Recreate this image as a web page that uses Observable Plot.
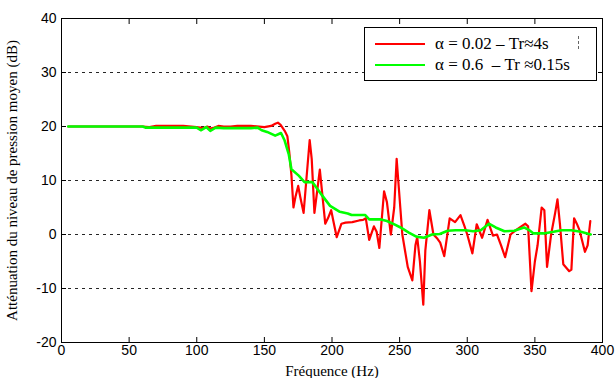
<!DOCTYPE html>
<html>
<head>
<meta charset="utf-8">
<script src="https://cdn.jsdelivr.net/npm/d3@7"></script>
<script src="https://cdn.jsdelivr.net/npm/@observablehq/plot@0.6"></script>
<style>
  html, body { margin: 0; padding: 0; background: #fff; }
  #wrap { position: relative; width: 615px; height: 378px; overflow: hidden; }
  #legend { position: absolute; left: 364px; top: 27px; width: 231px; height: 52px; border: 1px solid #000; background: #fff;
    font-family: "Liberation Serif", "Times New Roman", serif; font-size: 17px; color: #000; }
  .row { position: absolute; left: 0; height: 20px; display: flex; align-items: center; white-space: pre; }
  .sw { display: inline-block; width: 50px; height: 0; border-top: 2.5px solid; margin-left: 10px; margin-right: 10px; }
  .dots { position: absolute; left: 213px; top: 8px; height: 13px; border-left: 1px dashed #666; }
</style>
</head>
<body>
<div id="wrap"></div>
<script>
// Red series: alpha = 0.02 (Tr ≈ 4 s)
const redFreq = [5,60,65,70,80,90,100,105,108,110,113,116,120,125,130,140,150,155,158,160,162,165,167,168.5,170,171.5,173,175,176.5,179,181,183.5,185,187,189,191,193,195,197,199.4,201,203.5,207,210,215,220,223,225,227.5,231,233,235,238.5,240.6,243.5,246,247.8,249,250.5,252,254,256,259.4,261.7,263,265,267.5,269,272,275,278,280,283,287,291,295,298,300,303.8,307,311,315,319,322,325,328,332,336,340,343,345,347.5,350,352,355,357,359,362,365,366.7,368.5,371,375.4,377,379,381,383,387,389,391];
const redDb = [20,20,19.9,20.1,20.1,20.1,19.9,19.7,20,19.6,19.8,20.1,20,20,20.1,20.1,19.9,20.1,20.5,20.7,20.3,19.2,18.2,15,11,5,7,9,7,4,10,17.5,14,4,8,12,7,2,3,4.5,2.5,-0.5,2,2.2,2.3,2.6,2.7,3,-1,1.5,0.5,-2.5,8,6,0,5,14,10,5,0,-3,-6,-8.5,-2,-0.5,-5,-13,-3,4.5,0,-0.8,-1.5,-4,3,2.3,3.6,1.5,0,-3.5,1.9,-0.6,2.7,-0.2,0,-2,-4.2,0,0.8,1.5,2,1.5,-10.5,-5,-2,5,4.5,-6,0,4,6.5,2,-5.5,-6.8,-6.5,3,2,0.8,-3.2,-2,2.5];
// Green series: alpha = 0.6 (Tr ≈ 0.15 s)
const greenFreq = [5,60,62,100,103,107,110,114,120,140,145,148,152,158,162.3,165,168,170,175.4,179.7,185.5,188.4,192.8,198.6,205.8,211.6,214.5,224.6,227.5,236.2,240.6,245,250.7,256.5,262.3,268,274,279.7,285.5,291.3,298.6,304.3,310,316,321,327.5,334.8,342,346.4,349,356.5,363.8,369.6,376.8,384,391.3];
const greenDb = [20,20,19.8,19.8,19.3,19.9,19.2,19.8,19.7,19.7,19.8,19.3,19.0,18.3,18.8,17.4,14.9,12.1,10.9,9.7,9.7,8.7,7.2,5.3,4.2,3.9,3.6,3.6,2.8,2.8,2.5,2.0,1.3,0.4,-0.4,-0.6,0,0.1,0.7,0.8,0.8,0.6,0.8,2.0,1.3,0.6,0.7,1.3,0.7,0.2,0.2,0.5,0.8,0.8,0.5,0];

const xTicks = [0,50,100,150,200,250,300,350,400];
const yTicks = [-20,-10,0,10,20,30,40];
const gridValues = [-10,0,10,20,30];
const xLabel = "Fréquence (Hz)";
const yLabel = "Atténuation du niveau de pression moyen (dB)";
const seriesLabels = ["α = 0.02 – Tr≈4s", "α = 0.6  – Tr ≈0.15s"];
const seriesColors = ["#ff0000", "#00ff00"];

const red = redFreq.map((f, i) => ({f, v: redDb[i]}));
const green = greenFreq.map((f, i) => ({f, v: greenDb[i]}));
const serif = "Liberation Serif, Times New Roman, serif";
const fmt = d => String(d);

const chart = Plot.plot({
  width: 615,
  height: 378,
  marginLeft: 61,
  marginRight: 13,
  marginTop: 18,
  marginBottom: 36,
  style: {background: "#fff", color: "#000", fontSize: "14px", fontFamily: "Liberation Sans Narrow, Liberation Sans, Arial, sans-serif"},
  x: {domain: [0, 400]},
  y: {domain: [-20, 40]},
  marks: [
    Plot.ruleY(gridValues, {stroke: "#000", strokeOpacity: 0.85, strokeDasharray: "3,4", strokeWidth: 1}),
    Plot.line(red, {x: "f", y: "v", stroke: seriesColors[0], strokeWidth: 2.2}),
    Plot.line(green, {x: "f", y: "v", stroke: seriesColors[1], strokeWidth: 2.6}),
    Plot.frame({stroke: "#000", strokeWidth: 1}),
    Plot.axisX({ticks: xTicks, anchor: "bottom", tickSize: -5, tickPadding: 8, tickFormat: fmt, label: null, fontSize: 14}),
    Plot.axisX({ticks: xTicks, anchor: "top", tickSize: -5, tickFormat: () => "", label: null}),
    Plot.axisY({ticks: yTicks, anchor: "left", tickSize: -5, tickPadding: 10, tickFormat: fmt, label: null, fontSize: 14}),
    Plot.axisY({ticks: yTicks, anchor: "right", tickSize: -5, tickFormat: () => "", label: null}),
    Plot.text([xLabel], {text: d => d, frameAnchor: "bottom", dy: 33, fontFamily: serif, fontSize: 15, fill: "#000"}),
    Plot.text([yLabel], {text: d => d, frameAnchor: "left", textAnchor: "middle", dx: -49, rotate: -90, fontFamily: serif, fontSize: 15, fill: "#000"})
  ]
});
const wrap = document.getElementById("wrap");
wrap.appendChild(chart);

const legend = document.createElement("div");
legend.id = "legend";
seriesLabels.forEach((lab, i) => {
  const row = document.createElement("div");
  row.className = "row";
  row.style.top = (6 + i * 21) + "px";
  const sw = document.createElement("span");
  sw.className = "sw";
  sw.style.borderTopColor = seriesColors[i];
  const t = document.createElement("span");
  t.textContent = lab;
  row.appendChild(sw);
  row.appendChild(t);
  legend.appendChild(row);
});
const dots = document.createElement("div");
dots.className = "dots";
legend.appendChild(dots);
wrap.appendChild(legend);
</script>
</body>
</html>
